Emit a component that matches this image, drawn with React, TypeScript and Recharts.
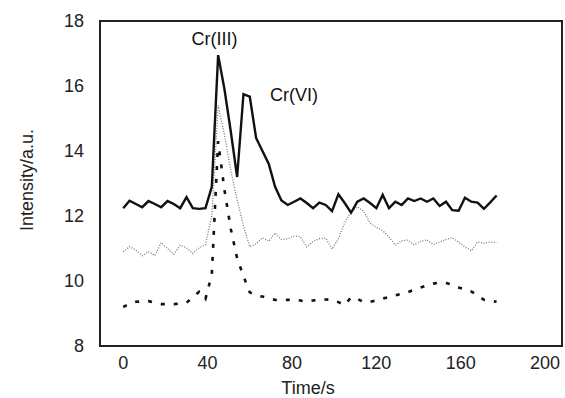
import React from 'react';
import { LineChart, Line, XAxis, YAxis, ReferenceArea, ReferenceDot, Label } from 'recharts';

// time axis, sampled every 3 s
const times = [
  0, 3, 6, 9, 12, 15, 18, 21, 24, 27, 30, 33, 36, 39, 42, 45, 48, 51, 54, 57,
  60, 63, 66, 69, 72, 75, 78, 81, 84, 87, 90, 93, 96, 99, 102, 105, 108, 111, 114, 117,
  120, 123, 126, 129, 132, 135, 138, 141, 144, 147, 150, 153, 156, 159, 162, 165, 168, 171, 174, 177,
];

// solid trace
const solidTrace = [
  12.24, 12.47, 12.37, 12.27, 12.46, 12.37, 12.27, 12.46, 12.37, 12.24, 12.58, 12.24, 12.22, 12.24, 12.9, 16.95, 15.9, 14.6, 13.2, 15.75,
  15.67, 14.4, 14.0, 13.6, 12.9, 12.48, 12.34, 12.44, 12.54, 12.4, 12.24, 12.41, 12.34, 12.15, 12.67, 12.4, 12.1, 12.44, 12.54, 12.4,
  12.24, 12.65, 12.24, 12.44, 12.34, 12.54, 12.46, 12.54, 12.44, 12.54, 12.31, 12.44, 12.18, 12.16, 12.56, 12.44, 12.41, 12.22, 12.42, 12.63,
];

// grey dotted trace
const dottedTrace = [
  10.9, 11.06, 10.95, 10.78, 10.9, 10.78, 11.18, 11.0, 10.82, 11.1, 11.02, 10.85, 11.02, 11.12, 12.0, 15.4, 14.5, 13.4, 12.5, 11.7,
  11.05, 11.15, 11.33, 11.22, 11.48, 11.28, 11.3, 11.38, 11.36, 11.05, 11.22, 11.3, 11.32, 10.98, 11.3, 11.8, 12.13, 12.28, 12.15, 11.78,
  11.65, 11.55, 11.35, 11.1, 11.24, 11.26, 11.11, 11.22, 11.27, 11.12, 11.2, 11.28, 11.33, 11.2, 11.05, 10.93, 11.2, 11.16, 11.2, 11.18,
];

// bold dashed trace
const dashedTrace = [
  9.2, 9.3, 9.36, 9.37, 9.38, 9.33, 9.29, 9.29, 9.29, 9.31, 9.33, 9.5, 9.67, 9.45, 10.2, 14.3, 12.8, 11.6, 10.7, 10.15,
  9.65, 9.56, 9.52, 9.47, 9.42, 9.4, 9.42, 9.43, 9.4, 9.36, 9.4, 9.43, 9.43, 9.42, 9.35, 9.26, 9.5, 9.45, 9.35, 9.36,
  9.41, 9.46, 9.51, 9.56, 9.61, 9.66, 9.73, 9.8, 9.87, 9.92, 9.95, 9.94, 9.88, 9.8, 9.74, 9.68, 9.55, 9.42, 9.39, 9.36,
];

const xTicks = [0, 40, 80, 120, 160, 200];
const yTicks = [8, 10, 12, 14, 16, 18];

const data = times.map((t, i) => ({
  t,
  solid: solidTrace[i],
  dotted: dottedTrace[i],
  dashed: dashedTrace[i],
}));

const font = '"Liberation Sans", Arial, sans-serif';
const tickStyle = { fontSize: 18, fill: '#222', fontFamily: font };

export default function App() {
  return (
    <div style={{ position: 'absolute', left: 0, top: 0, background: '#fff' }}>
      <LineChart width={565} height={398} data={data} margin={{ top: 21, right: 3, bottom: 0, left: 0 }}>
        <XAxis
          dataKey="t"
          type="number"
          domain={[-11, 208]}
          ticks={xTicks}
          tickSize={0}
          tickMargin={10}
          axisLine={false}
          tick={tickStyle}
          height={52}
          allowDataOverflow
        >
          <Label
            content={() => (
              <text x={308} y={394} textAnchor="middle" fontSize={18} fontFamily={font} fill="#222">
                Time/s
              </text>
            )}
          />
        </XAxis>
        <YAxis
          type="number"
          domain={[8, 18]}
          ticks={yTicks}
          tickSize={0}
          tickMargin={16}
          axisLine={false}
          tick={tickStyle}
          width={100}
          allowDataOverflow
        >
          <Label
            content={() => (
              <text
                x={33}
                y={180}
                textAnchor="middle"
                fontSize={18}
                fontFamily={font}
                fill="#222"
                transform="rotate(-90 33 180)"
              >
                Intensity/a.u.
              </text>
            )}
          />
        </YAxis>
        <ReferenceArea x1={-11} x2={208} y1={8} y2={18} fill="none" stroke="#222" strokeWidth={2} ifOverflow="visible" />
        <Line
          dataKey="dotted"
          stroke="#777"
          strokeWidth={1.3}
          strokeDasharray="1 1.6"
          dot={false}
          isAnimationActive={false}
        />
        <Line
          dataKey="dashed"
          stroke="#111"
          strokeWidth={2.6}
          strokeDasharray="4 9"
          dot={false}
          isAnimationActive={false}
        />
        <Line
          dataKey="solid"
          stroke="#111"
          strokeWidth={2.4}
          strokeLinejoin="miter"
          dot={false}
          isAnimationActive={false}
        />
        <ReferenceDot x={43.3} y={17.45} r={0} fill="none" stroke="none" ifOverflow="visible">
          <Label value="Cr(III)" position="center" fontSize={18} fontFamily={font} fill="#111" />
        </ReferenceDot>
        <ReferenceDot x={81} y={15.75} r={0} fill="none" stroke="none" ifOverflow="visible">
          <Label value="Cr(VI)" position="center" fontSize={18} fontFamily={font} fill="#111" />
        </ReferenceDot>
      </LineChart>
    </div>
  );
}
